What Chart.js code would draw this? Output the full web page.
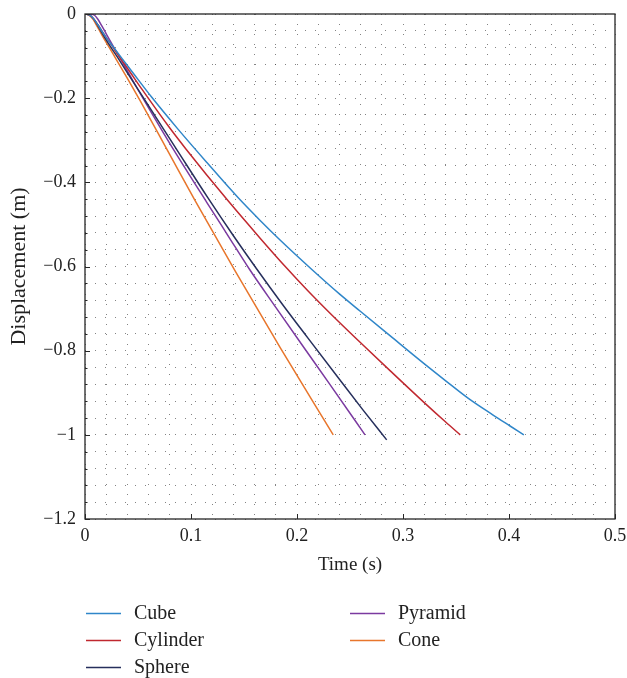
<!DOCTYPE html>
<html>
<head>
<meta charset="utf-8">
<script src="https://cdn.jsdelivr.net/npm/chart.js@4/dist/chart.umd.min.js"></script>
<style>
  html, body { margin: 0; padding: 0; background: #fff; }
</style>
</head>
<body>
<canvas id="chart" width="627" height="678"></canvas>
<script>
// --- data (time in s, displacement in m) ---
const seriesNames = ["Cube", "Cylinder", "Sphere", "Pyramid", "Cone"];
const seriesColors = ["#2f86c9", "#c0282f", "#262f5c", "#7b3aa0", "#e8762c"];

const cubeT = [0, 0.004, 0.008, 0.012, 0.016, 0.02, 0.025, 0.035, 0.045, 0.063, 0.0875, 0.115, 0.145, 0.165, 0.184, 0.214, 0.24, 0.26, 0.288, 0.319, 0.34, 0.362, 0.385, 0.401, 0.414];
const cubeY = [0, -0.002, -0.011, -0.025, -0.041, -0.056, -0.073, -0.106, -0.139, -0.198, -0.273, -0.353, -0.438, -0.49, -0.537, -0.607, -0.665, -0.707, -0.765, -0.829, -0.871, -0.914, -0.953, -0.979, -1.0];

const cylinderT = [0, 0.004, 0.008, 0.012, 0.016, 0.02, 0.025, 0.03, 0.042, 0.0535, 0.08, 0.095, 0.134, 0.165, 0.19, 0.21, 0.23, 0.262, 0.288, 0.319, 0.34, 0.354];
const cylinderY = [0, -0.002, -0.011, -0.025, -0.041, -0.056, -0.074, -0.093, -0.136, -0.178, -0.271, -0.32, -0.441, -0.532, -0.603, -0.657, -0.708, -0.786, -0.848, -0.921, -0.969, -1.0];

const sphereT = [0, 0.004, 0.008, 0.012, 0.016, 0.022, 0.03, 0.04, 0.052, 0.075, 0.087, 0.116, 0.14, 0.162, 0.186, 0.21, 0.24, 0.262, 0.2846];
const sphereY = [0, -0.002, -0.011, -0.027, -0.045, -0.07, -0.1, -0.14, -0.187, -0.277, -0.324, -0.437, -0.527, -0.606, -0.689, -0.769, -0.868, -0.94, -1.012];

const pyramidT = [0, 0.005, 0.009, 0.012, 0.016, 0.02, 0.026, 0.035, 0.05, 0.06, 0.072, 0.084, 0.115, 0.135, 0.155, 0.18, 0.205, 0.231, 0.2642];
const pyramidY = [0, -0.0005, -0.003, -0.012, -0.029, -0.047, -0.074, -0.113, -0.18, -0.223, -0.274, -0.324, -0.448, -0.527, -0.606, -0.697, -0.787, -0.88, -1.0];

const coneT = [0, 0.004, 0.008, 0.012, 0.016, 0.022, 0.03, 0.04, 0.052, 0.068, 0.08, 0.104, 0.142, 0.184, 0.2342];
const coneY = [0, -0.003, -0.014, -0.032, -0.05, -0.076, -0.11, -0.153, -0.206, -0.279, -0.334, -0.444, -0.612, -0.792, -1.0];

const xTickLabels = ["0", "0.1", "0.2", "0.3", "0.4", "0.5"];
const yTickLabels = ["0", "\u22120.2", "\u22120.4", "\u22120.6", "\u22120.8", "\u22121", "\u22121.2"];

const FONT = "'Liberation Serif', 'Times New Roman', serif";

const allT = [cubeT, cylinderT, sphereT, pyramidT, coneT];
const allY = [cubeY, cylinderY, sphereY, pyramidY, coneY];

// helper: is v a labelled (major) tick
const isMajor = (v, step) => Math.abs(v / step - Math.round(v / step)) < 1e-6;

// --- plugins: axis box with inner ticks, and a two-column legend ---
const framePlugin = {
  id: "frame",
  afterDatasetsDraw(chart) {
    const { ctx, chartArea: a, scales: { x, y } } = chart;
    ctx.save();
    ctx.strokeStyle = "#262626";
    ctx.lineWidth = 1.3;
    ctx.strokeRect(a.left, a.top, a.right - a.left, a.bottom - a.top);
    ctx.lineWidth = 1;
    ctx.beginPath();
    x.ticks.forEach(t => {
      if (!isMajor(t.value, 0.1)) return;
      const px = Math.round(x.getPixelForValue(t.value)) + 0.5;
      ctx.moveTo(px, a.bottom); ctx.lineTo(px, a.bottom - 5);
    });
    y.ticks.forEach(t => {
      const py = Math.round(y.getPixelForValue(t.value)) + 0.5;
      const len = isMajor(t.value, 0.2) ? 5 : 2.5;
      ctx.moveTo(a.left, py); ctx.lineTo(a.left + len, py);
    });
    ctx.stroke();
    ctx.restore();
  }
};

const legendPlugin = {
  id: "twoColLegend",
  afterDraw(chart) {
    const { ctx } = chart;
    ctx.save();
    ctx.font = `20px ${FONT}`;
    ctx.textBaseline = "middle";
    chart.data.datasets.forEach((ds, i) => {
      const col = i < 3 ? 0 : 1;
      const row = i < 3 ? i : i - 3;
      const lx = col === 0 ? 86 : 350;
      const ly = 613 + row * 27;
      ctx.strokeStyle = ds.borderColor;
      ctx.lineWidth = 1.5;
      ctx.beginPath();
      ctx.moveTo(lx, ly + 0.5); ctx.lineTo(lx + 35, ly + 0.5);
      ctx.stroke();
      ctx.fillStyle = "#222";
      ctx.fillText(ds.label, lx + 48, ly + 1);
    });
    ctx.restore();
  }
};

const datasets = seriesNames.map((name, i) => ({
  label: name,
  data: allT[i].map((t, k) => ({ x: t, y: allY[i][k] })),
  borderColor: seriesColors[i],
  backgroundColor: seriesColors[i],
  borderWidth: 1.5,
  pointRadius: 0,
  cubicInterpolationMode: "monotone",
  fill: false
}));

const gridStyle = { color: "rgba(50,50,50,0.6)", lineWidth: 1, drawTicks: false };

// drop the automatic label overhang so the plot box sits where the picture has it
const noOverhang = (s) => { s.paddingTop = 0; s.paddingBottom = 0; s.paddingLeft = 0; s.paddingRight = 0; };

new Chart(document.getElementById("chart").getContext("2d"), {
  type: "line",
  data: { datasets },
  options: {
    responsive: false,
    animation: false,
    layout: { padding: { top: 14, right: 12, bottom: 102, left: 0 } },
    plugins: { legend: { display: false }, tooltip: { enabled: false } },
    scales: {
      x: {
        type: "linear",
        min: 0, max: 0.5,
        grid: gridStyle,
        border: { display: false, dash: [1, 9] },
        ticks: {
          stepSize: 0.02, autoSkip: false, maxTicksLimit: 100, maxRotation: 0,
          padding: 6, color: "#222", font: { family: FONT, size: 18 },
          callback: (v) => isMajor(v, 0.1) ? xTickLabels[Math.round(v / 0.1)] : ""
        },
        title: { display: true, text: "Time (s)", color: "#222", font: { family: FONT, size: 19 }, padding: 0 },
        afterFit: (s) => { s.height = 57; noOverhang(s); }
      },
      y: {
        type: "linear",
        min: -1.2, max: 0,
        grid: gridStyle,
        border: { display: false, dash: [1, 9] },
        ticks: {
          stepSize: 0.04, autoSkip: false, maxTicksLimit: 100,
          padding: 9, color: "#222", font: { family: FONT, size: 18 },
          callback: (v) => isMajor(v, 0.2) ? yTickLabels[Math.round(-v / 0.2)] : ""
        },
        title: { display: true, text: "Displacement (m)", color: "#222", font: { family: FONT, size: 22 }, padding: { top: 6, bottom: 0 } },
        afterFit: (s) => { s.width = 85; noOverhang(s); }
      }
    }
  },
  plugins: [framePlugin, legendPlugin]
});
</script>
</body>
</html>
